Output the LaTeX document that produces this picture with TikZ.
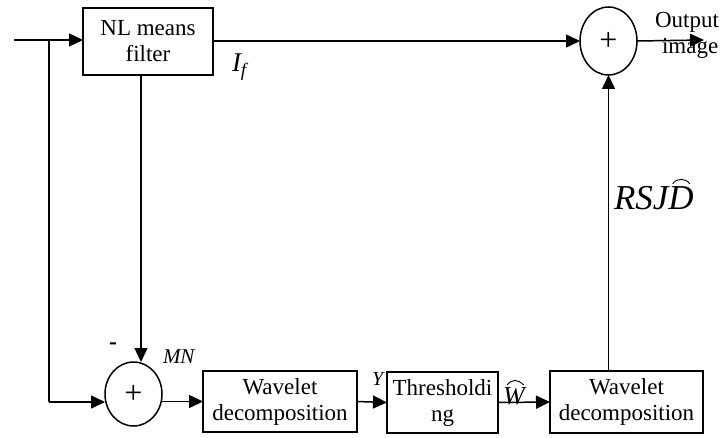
\documentclass[tikz,border=0pt]{standalone}
\usepackage{fontspec}
\setmainfont{Liberation Serif}
\usetikzlibrary{arrows.meta,shapes.geometric}
\begin{document}
\begin{tikzpicture}[x=1pt,y=-1pt,
  every node/.style={inner sep=0pt,outer sep=0pt},
  blk/.style={draw,line width=1.5pt,font=\fontsize{23}{26}\selectfont,align=center},
  sumnode/.style={draw,ellipse,line width=1.5pt,font=\fontsize{32}{32}\selectfont},
  conn/.style={line width=1.5pt},
  arr/.style={conn,-{Triangle[length=14pt,width=13pt]}},
  hat/.style={line width=0.9pt},
  lbl/.style={font=\fontsize{23}{26}\selectfont}]
\useasboundingbox (0,0) rectangle (722,438);
% blocks
\node[blk,minimum width=130pt,minimum height=67pt] (nl) at (148,41.5) {NL means\\filter};
\node[sumnode,minimum width=57pt,minimum height=68pt] (st) at (608.5,41) {+};
\node[sumnode,minimum width=57pt,minimum height=64pt] (sb) at (133.5,394) {+};
\node[blk,minimum width=154pt,minimum height=61pt] (wd1) at (280,401.5) {Wavelet\\decomposition};
\node[blk,minimum width=111pt,minimum height=61pt] (thr) at (442.5,402.5) {Thresholdi\\ng};
\node[blk,minimum width=153pt,minimum height=62pt] (wd2) at (626.5,402) {Wavelet\\decomposition};
% coordinates
\coordinate (in) at (14,40);
\coordinate (br) at (49,40);
\coordinate (brd) at (49,402);
\coordinate (nlb) at (141,75);
\coordinate (out) at (704,40);
% connectors
\draw[arr] (in) -- (nl.west |- in);
\draw[conn] (br) -- (brd);
\draw[arr] (brd) -- (sb.west |- brd);
\draw[arr] (nlb) -- (nlb |- sb.north);
\draw[arr] (nl.east |- st.west) -- (st.west);
\draw[arr] (st.east) -- (out);
\draw[arr] (sb.east |- wd1.west) -- (wd1.west);
\draw[arr] (wd1.east) -- (thr.west);
\draw[arr] (thr.east) -- (wd2.west);
\draw[arr] (wd2.north -| st.south) -- (st.south);
% labels
\node[lbl,font=\fontsize{27}{27}\selectfont\itshape,anchor=base west] (lif) at (232,72) {I\raisebox{-5pt}{\fontsize{19}{19}\selectfont f}};
\node[lbl,anchor=base west] (lout) at (655,28) {Output};
\node[lbl,anchor=base west] (limg) at (662,54) {image};
\node[lbl,font=\fontsize{24}{24}\selectfont\bfseries,anchor=center] (lminus) at (113,346) {-};
\node[lbl,font=\fontsize{21}{21}\selectfont\itshape,anchor=base west] (lmn) at (163,363) {MN};
\node[lbl,font=\fontsize{20}{20}\selectfont\itshape,anchor=base west] (ly) at (372,385) {Y};
\node[lbl,font=\fontsize{26}{26}\selectfont\itshape,anchor=base west] (lw) at (503,404) {W};
\draw[hat] ([xshift=4pt,yshift=2pt]lw.north west) .. controls ([xshift=9pt,yshift=8pt]lw.north west) and ([xshift=-7pt,yshift=8pt]lw.north east) .. ([xshift=-1pt,yshift=2pt]lw.north east);
\node[lbl,font=\fontsize{35}{35}\selectfont\itshape,anchor=base west] (lr) at (614,210) {RSJD};
\draw[hat] ([xshift=-21pt,yshift=3pt]lr.north east) .. controls ([xshift=-17pt,yshift=9pt]lr.north east) and ([xshift=-8pt,yshift=9pt]lr.north east) .. ([xshift=-4pt,yshift=3pt]lr.north east);
\end{tikzpicture}
\end{document}
